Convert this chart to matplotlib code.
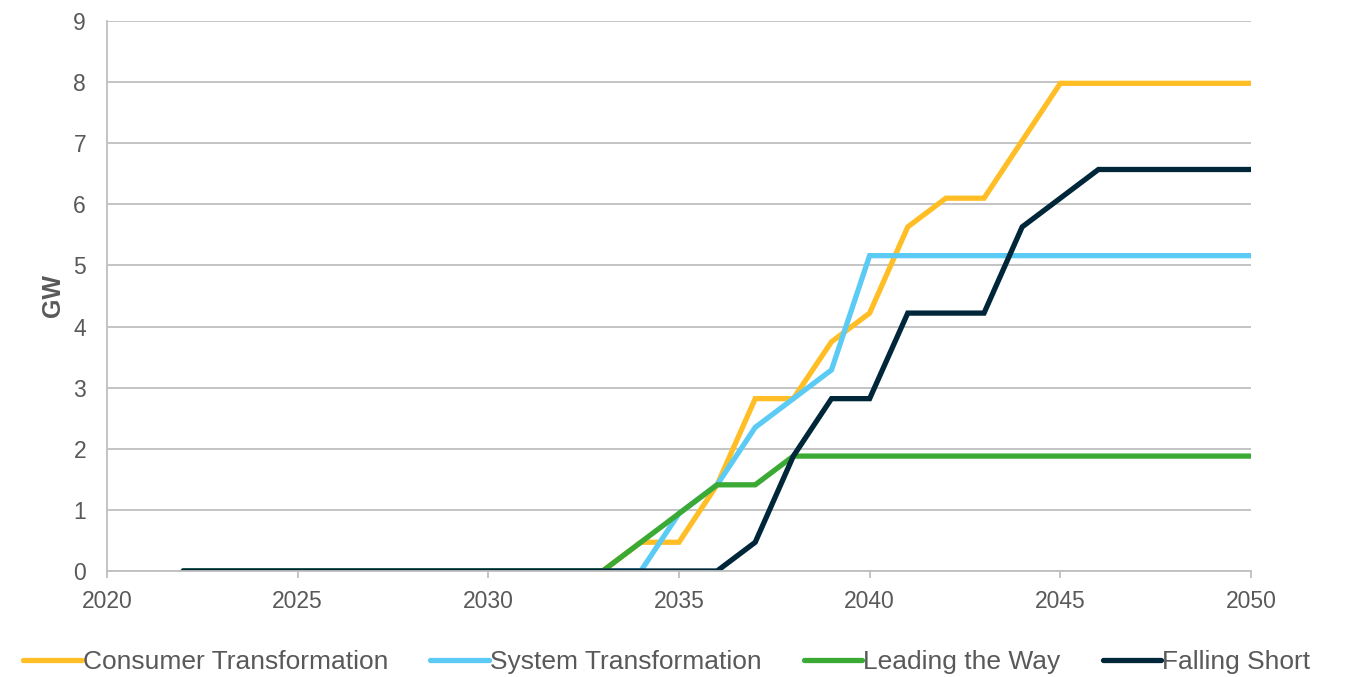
import matplotlib.pyplot as plt

plt.rcParams['font.family'] = ['Liberation Sans', 'DejaVu Sans']

years = list(range(2022, 2051))

consumer = [0] * 12 + [0.47, 0.47, 1.41, 2.82, 2.82, 3.75, 4.22, 5.63, 6.10, 6.10,
                       7.04, 7.98] + [7.98] * 5
system = [0] * 13 + [0.94, 1.41, 2.35, 2.82, 3.29] + [5.16] * 11
leading = [0] * 12 + [0.47, 0.94, 1.41, 1.41] + [1.88] * 13
falling = [0] * 15 + [0.47, 1.88, 2.82, 2.82, 4.22, 4.22, 4.22, 5.63, 6.10] + [6.57] * 5

series = [
    ("Consumer Transformation", consumer, "#FFBE25"),
    ("System Transformation", system, "#5BCBF5"),
    ("Leading the Way", leading, "#3AAA35"),
    ("Falling Short", falling, "#00263A"),
]

fig = plt.figure(figsize=(13.47, 6.77), dpi=100)
ax = fig.add_axes([0.0794, 0.1566, 0.8493, 0.8124])

for name, vals, col in series:
    ax.plot(years, vals, color=col, lw=3.8, label=name, solid_capstyle='round',
            solid_joinstyle='miter')

grey = "#BFBFBF"
txt = "#595959"
ax.set_xlim(2020, 2050)
ax.set_ylim(0, 9)
ax.set_xticks(range(2020, 2051, 5))
ax.set_yticks(range(0, 10))
ax.grid(axis='y', color=grey, lw=1.3)
ax.set_axisbelow(True)
for s in ['top', 'right']:
    ax.spines[s].set_visible(False)
for s in ['left', 'bottom']:
    ax.spines[s].set_color(grey)
    ax.spines[s].set_linewidth(1.3)
ax.tick_params(axis='y', length=0, pad=15, labelsize=16.5, labelcolor=txt)
ax.tick_params(axis='x', length=5, color=grey, width=1.3, pad=9, labelsize=16.5,
               labelcolor=txt)
ax.set_ylabel("GW", fontsize=18, fontweight='bold', color=txt, labelpad=6)

fig.legend(loc='center', bbox_to_anchor=(0.495, 0.022), ncol=4, frameon=False,
           fontsize=19, handlelength=2.2, handletextpad=0.05, columnspacing=1.6,
           labelcolor=txt)

fig.savefig("out.png", dpi=100)
